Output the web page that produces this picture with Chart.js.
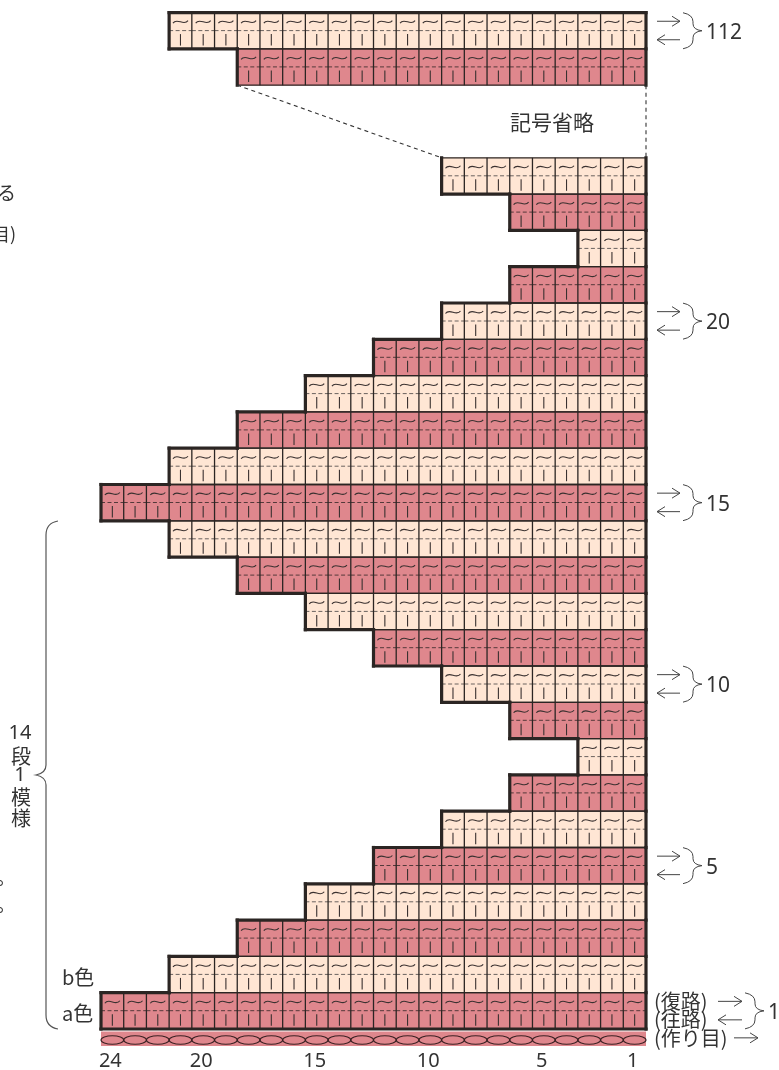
<!DOCTYPE html>
<html lang="ja">
<head>
<meta charset="utf-8">
<title>編み図</title>
<script src="https://cdn.jsdelivr.net/npm/chart.js@4/dist/chart.umd.min.js"></script>
<style>
  html, body { margin: 0; padding: 0; background: #fff; overflow: hidden; }
  #chart { display: block; }
</style>
</head>
<body>
<canvas id="chart" width="779" height="1070"></canvas>
<script>
// 段の並び(上から)。「略」は記号省略の空き
const rowLabels = ['112', '111', '略', '略', '24', '23', '22', '21', '20', '19', '18', '17', '16', '15',
                   '14', '13', '12', '11', '10', '9', '8', '7', '6', '5', '4', '3', '2', '1'];
// 各段の目数
const rowStitches = [21, 18, null, null, 9, 6, 3, 6, 9, 12, 15, 18, 21, 24,
                     21, 18, 15, 12, 9, 6, 3, 6, 9, 12, 15, 18, 21, 24];
// 各段の糸 (a色 / b色)
const rowYarn = ['b', 'a', null, null, 'b', 'a', 'b', 'a', 'b', 'a', 'b', 'a', 'b', 'a',
                 'b', 'a', 'b', 'a', 'b', 'a', 'b', 'a', 'b', 'a', 'b', 'a', 'b', 'a'];
const stitchTicks = [24, 20, 15, 10, 5, 1];
const markedRows = ['112', '20', '15', '10', '5'];

const colorA = '#df878d';
const colorB = '#ffe6d4';
const ink = '#2b2523';
const textFont = '"Noto Sans CJK JP", sans-serif';
const numFont = '"Noto Sans", sans-serif';

function hline(ctx, x1, x2, y, w) {
    ctx.lineWidth = w;
    ctx.beginPath(); ctx.moveTo(x1, y); ctx.lineTo(x2, y); ctx.stroke();
}
function vline(ctx, x, y1, y2, w) {
    ctx.lineWidth = w;
    ctx.beginPath(); ctx.moveTo(x, y1); ctx.lineTo(x, y2); ctx.stroke();
}

// 矢印(x1 から x2 へ)
function arrow(ctx, x1, x2, y) {
    const d = x2 > x1 ? -1 : 1;
    ctx.strokeStyle = '#444';
    ctx.lineWidth = 1;
    ctx.beginPath();
    ctx.moveTo(x1, y); ctx.lineTo(x2, y);
    ctx.moveTo(x2 + d * 8, y - 5); ctx.lineTo(x2, y); ctx.lineTo(x2 + d * 8, y + 5);
    ctx.stroke();
}

// 右向きの波かっこ
function braceRight(ctx, x, y1, y2) {
    const m = (y1 + y2) / 2;
    ctx.strokeStyle = '#444';
    ctx.lineWidth = 1;
    ctx.beginPath();
    ctx.moveTo(x, y1);
    ctx.quadraticCurveTo(x + 10, y1 + 2, x + 10, y1 + 9);
    ctx.lineTo(x + 10, m - 7);
    ctx.quadraticCurveTo(x + 10, m - 1, x + 19, m);
    ctx.quadraticCurveTo(x + 10, m + 1, x + 10, m + 7);
    ctx.lineTo(x + 10, y2 - 9);
    ctx.quadraticCurveTo(x + 10, y2 - 2, x, y2);
    ctx.stroke();
}

// 左向きの波かっこ (14段1模様)
function braceLeft(ctx, x, y1, y2, tip) {
    ctx.strokeStyle = '#555';
    ctx.lineWidth = 1.2;
    ctx.beginPath();
    ctx.moveTo(x + 12, y1);
    ctx.quadraticCurveTo(x, y1 + 2, x, y1 + 14);
    ctx.lineTo(x, tip - 10);
    ctx.quadraticCurveTo(x, tip - 2, x - 10, tip);
    ctx.quadraticCurveTo(x, tip + 2, x, tip + 10);
    ctx.lineTo(x, y2 - 14);
    ctx.quadraticCurveTo(x, y2 - 2, x + 12, y2);
    ctx.stroke();
}

function label(ctx, str, x, y, size, font, align) {
    ctx.fillStyle = '#333';
    ctx.font = size + 'px ' + (font || textFont);
    ctx.textAlign = align || 'left';
    ctx.textBaseline = 'middle';
    ctx.fillText(str, x, y);
}

const knitChartPlugin = {
    id: 'knitChart',
    afterDatasetsDraw(chart) {
        const ctx = chart.ctx;
        const xs = chart.scales.x;
        const ys = chart.scales.y;
        const rowH = ys.getPixelForValue(1) - ys.getPixelForValue(0);
        const right = xs.getPixelForValue(0);
        const stW = xs.getPixelForValue(0) - xs.getPixelForValue(1);
        const bottom = ys.getPixelForValue(rowLabels.length - 1) + rowH / 2;

        ctx.save();
        // 作り目
        ctx.fillStyle = colorA;
        ctx.fillRect(xs.getPixelForValue(24), bottom + 2.5, 24 * stW, 14.5);
        ctx.strokeStyle = '#3a2022';
        ctx.lineWidth = 1.1;
        for (let n = 0; n < 24; n++) {
            ctx.beginPath();
            ctx.ellipse(xs.getPixelForValue(n + 0.5), bottom + 11, stW / 2, 4.2, 0, 0, Math.PI * 2);
            ctx.stroke();
        }

        // 編み目の記号と罫線
        rowStitches.forEach((count, i) => {
            if (count === null) return;
            const top = ys.getPixelForValue(i) - rowH / 2;
            for (let n = 0; n < count; n++) {
                const cx = xs.getPixelForValue(n + 0.5);
                ctx.strokeStyle = '#3a3130';
                ctx.lineWidth = 1.1;
                ctx.beginPath();
                ctx.moveTo(cx - 7.5, top + 10.5);
                ctx.bezierCurveTo(cx - 3.5, top + 4.5, cx + 3.5, top + 14, cx + 7.5, top + 8);
                ctx.stroke();
                vline(ctx, cx, top + 21.5, top + 33, 1.1);
                ctx.setLineDash([4, 2.5]);
                ctx.strokeStyle = rowYarn[i] === 'a' ? '#54393a' : '#6a625e';
                hline(ctx, cx - stW / 2, cx + stW / 2, top + 18, 1);
                ctx.setLineDash([]);
            }
            ctx.strokeStyle = ink;
            for (let n = 1; n < count; n++) {
                const gx = xs.getPixelForValue(n);
                vline(ctx, gx, top, top + rowH, 1.3);
            }
            hline(ctx, xs.getPixelForValue(count), right, top + rowH, 1.3);
            hline(ctx, xs.getPixelForValue(count), right, top, 1.3);
        });

        // 太い外枠
        ctx.strokeStyle = ink;
        ctx.lineCap = 'square';
        rowStitches.forEach((count, i) => {
            if (count === null) return;
            const top = ys.getPixelForValue(i) - rowH / 2;
            const edge = xs.getPixelForValue(count);
            vline(ctx, edge, top, top + rowH, 3.2);
            vline(ctx, right, top, top + rowH, 3.2);
            const prev = rowStitches[i - 1];
            if (prev) hline(ctx, xs.getPixelForValue(Math.max(prev, count)), xs.getPixelForValue(Math.min(prev, count)), top, 3.2);
        });
        hline(ctx, xs.getPixelForValue(rowStitches[0]), right, ys.getPixelForValue(0) - rowH / 2, 3.2);
        hline(ctx, xs.getPixelForValue(24), right, bottom, 3.2);
        ctx.lineCap = 'butt';

        // 省略部分の点線
        const gapTop = ys.getPixelForValue(1) + rowH / 2;
        const gapBottom = ys.getPixelForValue(4) - rowH / 2;
        ctx.setLineDash([4, 3.5]);
        ctx.strokeStyle = '#333';
        ctx.lineWidth = 1.1;
        ctx.beginPath();
        ctx.moveTo(xs.getPixelForValue(rowStitches[1]), gapTop);
        ctx.lineTo(xs.getPixelForValue(rowStitches[4]), gapBottom);
        ctx.moveTo(right, gapTop);
        ctx.lineTo(right, gapBottom);
        ctx.stroke();
        ctx.setLineDash([]);

        // 段数の矢印とかっこ
        markedRows.forEach(r => {
            const cy = ys.getPixelForValue(rowLabels.indexOf(r));
            arrow(ctx, right + 11, right + 34, cy - 9.5);
            arrow(ctx, right + 34, right + 11, cy + 9);
            braceRight(ctx, right + 37, cy - 18, cy + 18);
            label(ctx, r, right + 60, cy + 2, 21, numFont);
        });

        // 1段目
        const cy1 = ys.getPixelForValue(rowLabels.length - 1);
        label(ctx, '(復路)', right + 8, cy1 - 9, 20);
        label(ctx, '(往路)', right + 8, cy1 + 9, 20);
        label(ctx, '(作り目)', right + 8, cy1 + 28, 20);
        arrow(ctx, right + 72, right + 96, cy1 - 9.5);
        arrow(ctx, right + 96, right + 72, cy1 + 9);
        arrow(ctx, right + 88, right + 112, cy1 + 27);
        braceRight(ctx, right + 99, cy1 - 18, cy1 + 18);
        label(ctx, '1', right + 122, cy1 + 2, 21, numFont);

        // その他の文字
        label(ctx, '記号省略', 552, 122, 21, textFont, 'center');
        label(ctx, 'b色', 62, 977, 20);
        label(ctx, 'a色', 62, 1013, 20);
        label(ctx, '14', 20, 733, 20, numFont, 'center');
        label(ctx, '段', 21, 756, 20, textFont, 'center');
        label(ctx, '1', 20, 775, 20, numFont, 'center');
        label(ctx, '模', 21, 797, 20, textFont, 'center');
        label(ctx, '様', 21, 818, 20, textFont, 'center');
        label(ctx, 'る', -3, 193, 19);
        label(ctx, '目)', -8, 234, 18);
        label(ctx, '。', -4, 877, 20);
        label(ctx, '。', -4, 904, 20);
        braceLeft(ctx, 46, 521, 1029, 775);
        ctx.restore();
    }
};

new Chart(document.getElementById('chart'), {
    type: 'bar',
    data: {
        labels: rowLabels,
        datasets: [{
            data: rowStitches,
            backgroundColor: rowYarn.map(y => y === 'a' ? colorA : colorB),
            borderWidth: 0,
            barPercentage: 1,
            categoryPercentage: 1
        }]
    },
    options: {
        indexAxis: 'y',
        responsive: false,
        animation: false,
        layout: { padding: { left: 101, right: 133, top: 12.6, bottom: 0 } },
        plugins: { legend: { display: false }, tooltip: { enabled: false } },
        scales: {
            x: {
                type: 'linear',
                reverse: true,
                min: 0,
                max: 24,
                grid: { display: false },
                border: { display: false },
                afterBuildTicks(axis) {
                    axis.ticks = stitchTicks.map(n => ({ value: n - 0.5 }));
                },
                afterFit(axis) { axis.height = 41; },
                ticks: {
                    autoSkip: false,
                    maxRotation: 0,
                    padding: 12,
                    labelOffset: -2,
                    color: '#333',
                    font: { family: numFont, size: 20 },
                    callback: value => String(value + 0.5)
                }
            },
            y: { type: 'category', display: false }
        }
    },
    plugins: [knitChartPlugin]
});
</script>
</body>
</html>
